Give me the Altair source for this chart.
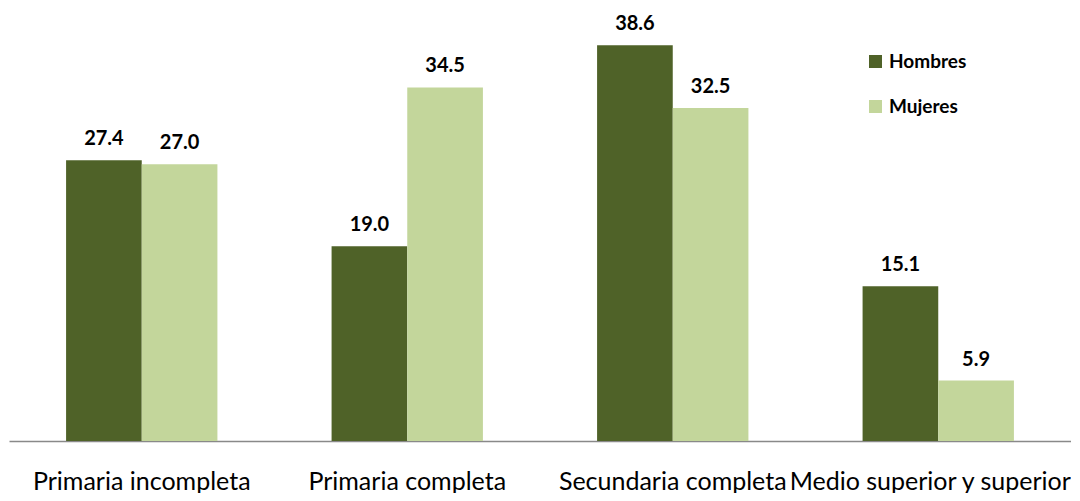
import altair as alt
import pandas as pd

categorias = ["Primaria incompleta", "Primaria completa", "Secundaria completa", "Medio superior y superior"]
series = ["Hombres", "Mujeres"]
hombres = [27.4, 19.0, 38.6, 15.1]
mujeres = [27.0, 34.5, 32.5, 5.9]
colores = ["#4F6228", "#C3D69B"]

rows = []
for c, h, m in zip(categorias, hombres, mujeres):
    rows.append({"cat": c, "serie": "Hombres", "valor": h})
    rows.append({"cat": c, "serie": "Mujeres", "valor": m})
df = pd.DataFrame(rows)

FONT = "Lato"

x = alt.X(
    "cat:N",
    sort=categorias,
    title=None,
    scale=alt.Scale(paddingInner=0.43, paddingOuter=0.215),
    axis=alt.Axis(
        labelAngle=0,
        ticks=False,
        domainColor="#898989",
        domainWidth=1.5,
        labelFont=FONT,
        labelFontSize=25,
        labelColor="black",
        labelLimit=0,
        labelPadding=48,
        labelBaseline="alphabetic",
        labelOffset={
            "condition": {"test": "datum.value == 'Medio superior y superior'", "value": -8},
            "value": 0,
        },
    ),
)
y = alt.Y("valor:Q", scale=alt.Scale(domain=[0, 40]), axis=None)

color = alt.Color(
    "serie:N",
    sort=series,
    scale=alt.Scale(domain=series, range=colores),
    legend=alt.Legend(
        title=None,
        orient="none",
        legendX=857,
        legendY=21,
        padding=0,
        symbolType="square",
        symbolSize=169,
        symbolStrokeWidth=0,
        labelFont=FONT,
        labelFontSize=19,
        labelFontWeight="bold",
        labelColor="black",
        labelOffset=4,
        rowPadding=25,
    ),
)

base = alt.Chart(df).encode(x=x, y=y, xOffset=alt.XOffset("serie:N", sort=series))

bars = base.mark_bar().encode(color=color)
labels = base.mark_text(
    dy=-15, baseline="alphabetic", fontWeight="bold", font=FONT, fontSize=20, color="black"
).encode(text=alt.Text("valor:Q", format=".1f"))

chart = (
    alt.layer(bars, labels)
    .properties(
        width=1062,
        height=410,
        padding={"left": 1, "top": 23, "right": 0, "bottom": 52},
        autosize=alt.AutoSizeParams(type="none"),
        background="white",
    )
    .configure_view(stroke=None)
)

chart.save("out.html", embed_options={"renderer": "svg", "actions": False})
